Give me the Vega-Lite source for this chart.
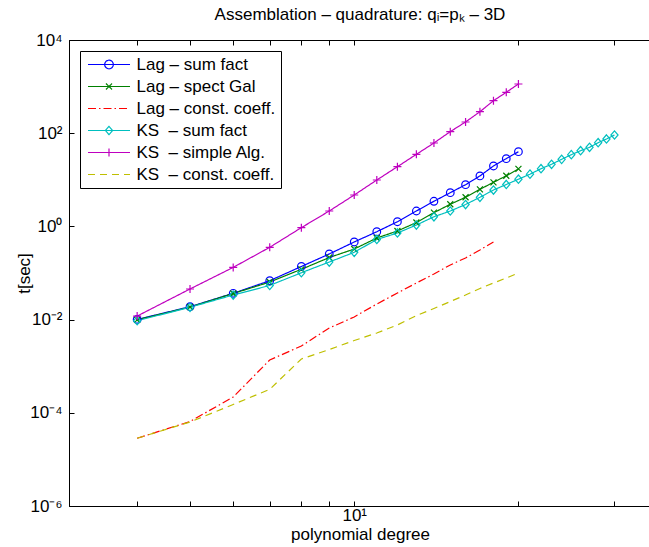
{
  "$schema": "https://vega.github.io/schema/vega-lite/v6.json",
  "width": 582,
  "height": 466,
  "autosize": {"type": "none"},
  "padding": {"left": 69, "top": 40, "right": 0, "bottom": 41},
  "background": "white",
  "title": {"text": "Assemblation – quadrature: qᵢ=pₖ – 3D", "font": "Liberation Sans", "fontSize": 17, "fontWeight": "normal", "color": "black", "anchor": "middle", "offset": 7},
  "config": {
    "view": {"stroke": "black", "strokeWidth": 1},
    "axis": {"domainColor": "black", "domainWidth": 1, "tickColor": "black", "tickWidth": 1, "tickSize": -5, "labelColor": "black", "titleColor": "black", "labelFont": "Liberation Sans", "titleFont": "Liberation Sans", "labelFontSize": 17, "titleFontSize": 17, "titleFontWeight": "normal", "grid": false}
  },
  "datasets": {
    "pts": [
      {"s": "Lag – sum fact", "d": 4, "t": 0.0101}, {"s": "Lag – sum fact", "d": 5, "t": 0.0189}, {"s": "Lag – sum fact", "d": 6, "t": 0.0367}, {"s": "Lag – sum fact", "d": 7, "t": 0.0684}, {"s": "Lag – sum fact", "d": 8, "t": 0.138}, {"s": "Lag – sum fact", "d": 9, "t": 0.256}, {"s": "Lag – sum fact", "d": 10, "t": 0.463}, {"s": "Lag – sum fact", "d": 11, "t": 0.769}, {"s": "Lag – sum fact", "d": 12, "t": 1.26}, {"s": "Lag – sum fact", "d": 13, "t": 2.14}, {"s": "Lag – sum fact", "d": 14, "t": 3.46}, {"s": "Lag – sum fact", "d": 15, "t": 5.29}, {"s": "Lag – sum fact", "d": 16, "t": 7.85}, {"s": "Lag – sum fact", "d": 17, "t": 12.1}, {"s": "Lag – sum fact", "d": 18, "t": 19.8}, {"s": "Lag – sum fact", "d": 19, "t": 28.4}, {"s": "Lag – sum fact", "d": 20, "t": 40.1},
      {"s": "Lag – spect Gal", "d": 4, "t": 0.0099}, {"s": "Lag – spect Gal", "d": 5, "t": 0.0186}, {"s": "Lag – spect Gal", "d": 6, "t": 0.0363}, {"s": "Lag – spect Gal", "d": 7, "t": 0.064}, {"s": "Lag – spect Gal", "d": 8, "t": 0.12}, {"s": "Lag – spect Gal", "d": 9, "t": 0.215}, {"s": "Lag – spect Gal", "d": 10, "t": 0.327}, {"s": "Lag – spect Gal", "d": 11, "t": 0.564}, {"s": "Lag – spect Gal", "d": 12, "t": 0.797}, {"s": "Lag – spect Gal", "d": 13, "t": 1.21}, {"s": "Lag – spect Gal", "d": 14, "t": 1.97}, {"s": "Lag – spect Gal", "d": 15, "t": 2.99}, {"s": "Lag – spect Gal", "d": 16, "t": 4.23}, {"s": "Lag – spect Gal", "d": 17, "t": 6.25}, {"s": "Lag – spect Gal", "d": 18, "t": 8.83}, {"s": "Lag – spect Gal", "d": 19, "t": 12.2}, {"s": "Lag – spect Gal", "d": 20, "t": 17.1},
      {"s": "Lag – const. coeff.", "d": 4, "t": 0.0000284}, {"s": "Lag – const. coeff.", "d": 5, "t": 0.000065}, {"s": "Lag – const. coeff.", "d": 6, "t": 0.000218}, {"s": "Lag – const. coeff.", "d": 7, "t": 0.00136}, {"s": "Lag – const. coeff.", "d": 8, "t": 0.00271}, {"s": "Lag – const. coeff.", "d": 9, "t": 0.0066}, {"s": "Lag – const. coeff.", "d": 10, "t": 0.0114}, {"s": "Lag – const. coeff.", "d": 11, "t": 0.0216}, {"s": "Lag – const. coeff.", "d": 12, "t": 0.0372}, {"s": "Lag – const. coeff.", "d": 13, "t": 0.061}, {"s": "Lag – const. coeff.", "d": 14, "t": 0.0953}, {"s": "Lag – const. coeff.", "d": 15, "t": 0.149}, {"s": "Lag – const. coeff.", "d": 16, "t": 0.21}, {"s": "Lag – const. coeff.", "d": 17, "t": 0.312}, {"s": "Lag – const. coeff.", "d": 18, "t": 0.463},
      {"s": "KS\u00a0 – sum fact", "d": 4, "t": 0.00946}, {"s": "KS\u00a0 – sum fact", "d": 5, "t": 0.0184}, {"s": "KS\u00a0 – sum fact", "d": 6, "t": 0.0337}, {"s": "KS\u00a0 – sum fact", "d": 7, "t": 0.054}, {"s": "KS\u00a0 – sum fact", "d": 8, "t": 0.1014}, {"s": "KS\u00a0 – sum fact", "d": 9, "t": 0.172}, {"s": "KS\u00a0 – sum fact", "d": 10, "t": 0.278}, {"s": "KS\u00a0 – sum fact", "d": 11, "t": 0.524}, {"s": "KS\u00a0 – sum fact", "d": 12, "t": 0.722}, {"s": "KS\u00a0 – sum fact", "d": 13, "t": 1.07}, {"s": "KS\u00a0 – sum fact", "d": 14, "t": 1.61}, {"s": "KS\u00a0 – sum fact", "d": 15, "t": 2.14}, {"s": "KS\u00a0 – sum fact", "d": 16, "t": 2.95}, {"s": "KS\u00a0 – sum fact", "d": 17, "t": 4.21}, {"s": "KS\u00a0 – sum fact", "d": 18, "t": 6.04}, {"s": "KS\u00a0 – sum fact", "d": 19, "t": 7.93}, {"s": "KS\u00a0 – sum fact", "d": 20, "t": 10.3}, {"s": "KS\u00a0 – sum fact", "d": 21, "t": 13.2}, {"s": "KS\u00a0 – sum fact", "d": 22, "t": 17.3}, {"s": "KS\u00a0 – sum fact", "d": 23, "t": 21.5}, {"s": "KS\u00a0 – sum fact", "d": 24, "t": 27.5}, {"s": "KS\u00a0 – sum fact", "d": 25, "t": 34.6}, {"s": "KS\u00a0 – sum fact", "d": 26, "t": 42.1}, {"s": "KS\u00a0 – sum fact", "d": 27, "t": 49.8}, {"s": "KS\u00a0 – sum fact", "d": 28, "t": 62.5}, {"s": "KS\u00a0 – sum fact", "d": 29, "t": 75.1}, {"s": "KS\u00a0 – sum fact", "d": 30, "t": 91.5},
      {"s": "KS\u00a0 – simple Alg.", "d": 4, "t": 0.0119}, {"s": "KS\u00a0 – simple Alg.", "d": 5, "t": 0.0454}, {"s": "KS\u00a0 – simple Alg.", "d": 6, "t": 0.132}, {"s": "KS\u00a0 – simple Alg.", "d": 7, "t": 0.356}, {"s": "KS\u00a0 – simple Alg.", "d": 8, "t": 0.94}, {"s": "KS\u00a0 – simple Alg.", "d": 9, "t": 2.14}, {"s": "KS\u00a0 – simple Alg.", "d": 10, "t": 4.72}, {"s": "KS\u00a0 – simple Alg.", "d": 11, "t": 9.9}, {"s": "KS\u00a0 – simple Alg.", "d": 12, "t": 19.1}, {"s": "KS\u00a0 – simple Alg.", "d": 13, "t": 35.2}, {"s": "KS\u00a0 – simple Alg.", "d": 14, "t": 61.6}, {"s": "KS\u00a0 – simple Alg.", "d": 15, "t": 108}, {"s": "KS\u00a0 – simple Alg.", "d": 16, "t": 174}, {"s": "KS\u00a0 – simple Alg.", "d": 17, "t": 289}, {"s": "KS\u00a0 – simple Alg.", "d": 18, "t": 498}, {"s": "KS\u00a0 – simple Alg.", "d": 19, "t": 755}, {"s": "KS\u00a0 – simple Alg.", "d": 20, "t": 1138},
      {"s": "KS\u00a0 – const. coeff.", "d": 4, "t": 0.0000284}, {"s": "KS\u00a0 – const. coeff.", "d": 5, "t": 0.0000635}, {"s": "KS\u00a0 – const. coeff.", "d": 6, "t": 0.000151}, {"s": "KS\u00a0 – const. coeff.", "d": 7, "t": 0.000319}, {"s": "KS\u00a0 – const. coeff.", "d": 8, "t": 0.00143}, {"s": "KS\u00a0 – const. coeff.", "d": 9, "t": 0.00228}, {"s": "KS\u00a0 – const. coeff.", "d": 10, "t": 0.00356}, {"s": "KS\u00a0 – const. coeff.", "d": 11, "t": 0.00515}, {"s": "KS\u00a0 – const. coeff.", "d": 12, "t": 0.00766}, {"s": "KS\u00a0 – const. coeff.", "d": 13, "t": 0.0122}, {"s": "KS\u00a0 – const. coeff.", "d": 14, "t": 0.0173}, {"s": "KS\u00a0 – const. coeff.", "d": 15, "t": 0.0244}, {"s": "KS\u00a0 – const. coeff.", "d": 16, "t": 0.0337}, {"s": "KS\u00a0 – const. coeff.", "d": 17, "t": 0.0465}, {"s": "KS\u00a0 – const. coeff.", "d": 18, "t": 0.061}, {"s": "KS\u00a0 – const. coeff.", "d": 19, "t": 0.078}, {"s": "KS\u00a0 – const. coeff.", "d": 20, "t": 0.1}
    ]
  },
  "data": {"name": "pts"},
  "resolve": {"axis": {"x": "independent"}},
  "layer": [
    {
      "mark": {"type": "line", "strokeWidth": 1.2},
      "encoding": {
        "x": {"field": "d", "type": "quantitative", "scale": {"type": "log", "domain": [3, 35], "nice": false},
              "axis": {"orient": "bottom", "values": [4, 5, 6, 7, 8, 9, 10, 20, 30], "labelExpr": "datum.value == 10 ? '10¹' : ''", "labelPadding": 6, "title": "polynomial degree", "titlePadding": 3, "labelFlush": false, "labelOverlap": false}},
        "y": {"field": "t", "type": "quantitative", "scale": {"type": "log", "domain": [0.000001, 10000], "nice": false},
              "axis": {"orient": "left", "values": [0.000001, 0.0001, 0.01, 1, 100, 10000], "labelExpr": "datum.value > 1000 ? '10⁴' : datum.value > 10 ? '10²' : datum.value > 0.1 ? '10⁰' : datum.value > 0.001 ? '10⁻²' : datum.value > 0.00001 ? '10⁻⁴' : '10⁻⁶'", "labelPadding": 12, "title": "t[sec]", "titlePadding": -4, "labelFlush": false, "labelOverlap": false}},
        "color": {"field": "s", "type": "nominal",
                  "scale": {"domain": ["Lag – sum fact", "Lag – spect Gal", "Lag – const. coeff.", "KS\u00a0 – sum fact", "KS\u00a0 – simple Alg.", "KS\u00a0 – const. coeff."], "range": ["#0000ff", "#008000", "#ff0000", "#00bfbf", "#bf00bf", "#bfbf00"]}},
        "strokeDash": {"field": "s", "type": "nominal",
                  "scale": {"domain": ["Lag – sum fact", "Lag – spect Gal", "Lag – const. coeff.", "KS\u00a0 – sum fact", "KS\u00a0 – simple Alg.", "KS\u00a0 – const. coeff."], "range": [[1, 0], [1, 0], [8, 3, 1.5, 3], [1, 0], [1, 0], [7, 5]]}}
      }
    },
    {
      "transform": [{"filter": "datum.s == 'Lag – sum fact'"}],
      "mark": {"type": "point", "shape": "circle", "filled": false, "size": 58, "strokeWidth": 1.2, "color": "#0000ff", "opacity": 1},
      "encoding": {"x": {"field": "d", "type": "quantitative", "axis": null}, "y": {"field": "t", "type": "quantitative"}}
    },
    {
      "transform": [{"filter": "datum.s == 'Lag – spect Gal'"}],
      "mark": {"type": "point", "shape": "M-1,-1L1,1M-1,1L1,-1", "filled": false, "size": 36, "strokeWidth": 1.2, "color": "#008000", "opacity": 1},
      "encoding": {"x": {"field": "d", "type": "quantitative", "axis": null}, "y": {"field": "t", "type": "quantitative"}}
    },
    {
      "transform": [{"filter": "datum.s == 'KS\u00a0 – sum fact'"}],
      "mark": {"type": "point", "shape": "M0,-1.05L0.9,0L0,1.05L-0.9,0Z", "filled": false, "size": 64, "strokeWidth": 1.2, "color": "#00bfbf", "opacity": 1},
      "encoding": {"x": {"field": "d", "type": "quantitative", "axis": null}, "y": {"field": "t", "type": "quantitative"}}
    },
    {
      "transform": [{"filter": "datum.s == 'KS\u00a0 – simple Alg.'"}],
      "mark": {"type": "point", "shape": "M-1,0L1,0M0,-1L0,1", "filled": false, "size": 64, "strokeWidth": 1.2, "color": "#bf00bf", "opacity": 1},
      "encoding": {"x": {"field": "d", "type": "quantitative", "axis": null}, "y": {"field": "t", "type": "quantitative"}}
    },
    {
      "transform": [{"filter": "datum.d > 1000"}],
      "mark": {"type": "point", "filled": false, "strokeWidth": 1.2},
      "encoding": {
        "x": {"field": "d", "type": "quantitative", "axis": {"orient": "top", "values": [4, 5, 6, 7, 8, 9, 10, 20, 30], "labels": false, "title": null}},
        "y": {"field": "t", "type": "quantitative"},
        "color": {"field": "s", "type": "nominal",
                  "legend": {"title": null, "orient": "top-left", "offset": 11, "padding": 5, "strokeColor": "black", "fillColor": "white", "cornerRadius": 0, "labelFont": "Liberation Sans", "labelFontSize": 17, "labelColor": "black", "labelLimit": 400, "symbolSize": 64, "symbolStrokeWidth": 1.2, "symbolOffset": 15.5, "labelOffset": 19, "rowPadding": 4, "symbolOpacity": 1}},
        "shape": {"field": "s", "type": "nominal",
                  "scale": {"domain": ["Lag – sum fact", "Lag – spect Gal", "Lag – const. coeff.", "KS\u00a0 – sum fact", "KS\u00a0 – simple Alg.", "KS\u00a0 – const. coeff."],
                            "range": ["M-5.25,0L5.25,0M1.075,0A1.075,1.075,0,1,1,-1.075,0A1.075,1.075,0,1,1,1.075,0", "M-5.25,0L5.25,0M-0.75,-0.75L0.75,0.75M-0.75,0.75L0.75,-0.75", "M-5.25,0L5.25,0", "M-5.25,0L5.25,0M0,-1.05L0.9,0L0,1.05L-0.9,0Z", "M-5.25,0L5.25,0M-1,0L1,0M0,-1L0,1", "M-5.25,0L5.25,0"]}},
        "strokeDash": {"field": "s", "type": "nominal"}
      }
    }
  ]
}
